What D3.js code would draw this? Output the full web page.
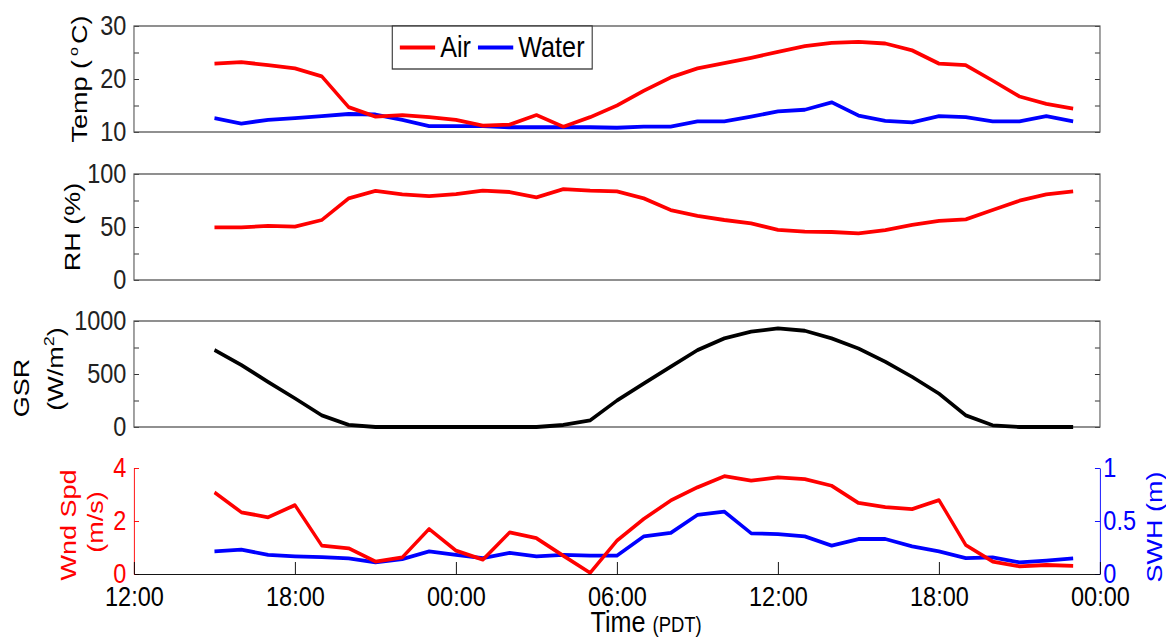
<!DOCTYPE html>
<html>
<head>
<meta charset="utf-8">
<script src="https://cdn.jsdelivr.net/npm/d3@7.9.0/dist/d3.min.js"></script>
<style>
  body { margin: 0; background: #fff; }
  svg { display: block; }
  text { font-family: "Liberation Sans", Arial, sans-serif; }
</style>
</head>
<body>
<div id="chart"></div>
<script>
// hours after 12:00 on the first day
const hours = [3, 4, 5, 6, 7, 8, 9, 10, 11, 12, 13, 14, 15, 16, 17, 18, 19,
  20, 21, 22, 23, 24, 25, 26, 27, 28, 29, 30, 31, 32, 33, 34, 35];

const airTemp = [22.9, 23.2, 22.6, 22.0, 20.5, 14.7, 12.9, 13.2, 12.8, 12.3, 11.2,
  11.4, 13.2, 11.0, 12.8, 15.0, 17.8, 20.3, 22.0, 23.0, 24.0, 25.1, 26.2, 26.8,
  27.0, 26.7, 25.4, 22.9, 22.6, 19.7, 16.7, 15.3, 14.4];
const waterTemp = [12.6, 11.6, 12.3, 12.6, 13.0, 13.4, 13.3, 12.3, 11.1, 11.1, 11.1,
  10.9, 10.9, 10.9, 10.9, 10.8, 11.0, 11.0, 12.0, 12.0, 12.9, 13.9, 14.2, 15.6,
  13.1, 12.1, 11.8, 13.0, 12.8, 12.0, 12.0, 13.0, 12.0];
const relHum = [49.7, 49.7, 51, 50.3, 56.6, 77, 84, 80.8, 79.2, 81.1, 84.3, 83, 78,
  85.8, 84.3, 83.6, 77, 66, 60.4, 56.6, 53.5, 47.2, 45.6, 45.3, 44, 47, 52, 55.7,
  57.2, 66, 74.8, 80.8, 83.6];
const solarRad = [726, 585, 425, 270, 110, 20, 0, 0, 0, 0, 0, 0, 0, 19, 62, 250, 410,
  568, 725, 836, 899, 930, 908, 836, 741, 615, 473, 315, 110, 16, 0, 0, 0];
const windSpd = [3.08, 2.33, 2.14, 2.6, 1.07, 0.97, 0.47, 0.63, 1.7, 0.88, 0.54,
  1.57, 1.35, 0.69, 0.04, 1.26, 2.08, 2.77, 3.27, 3.69, 3.52, 3.65, 3.58, 3.33,
  2.68, 2.52, 2.45, 2.79, 1.09, 0.47, 0.29, 0.34, 0.31];
const waveHt = [0.214, 0.23, 0.18, 0.167, 0.16, 0.148, 0.11, 0.14, 0.214, 0.18, 0.15,
  0.2, 0.167, 0.18, 0.173, 0.173, 0.355, 0.387, 0.557, 0.588, 0.384, 0.377, 0.355,
  0.267, 0.33, 0.33, 0.26, 0.214, 0.15, 0.157, 0.11, 0.126, 0.148];

const tempTicks = [10, 15, 20, 25, 30], tempLabels = [10, 20, 30];
const rhTicks = [0, 25, 50, 75, 100], rhLabels = [0, 50, 100];
const gsrTicks = [0, 250, 500, 750, 1000], gsrLabels = [0, 500, 1000];
const windTicks = [0, 2, 4];
const swhTicks = [0, 0.5, 1];

// the picture is squeezed sideways, so draw wide and let the viewBox squeeze it
const squeeze = 0.84;
const width = 1166 / squeeze;
const height = 638;
const left = 159.5, right = 1309.5;
const frameColor = '#555';
const tickFont = 28;
const labelFont = 27;

const svg = d3.select('#chart')
  .append('svg')
  .attr('width', 1166)
  .attr('height', height)
  .attr('viewBox', `0 0 ${width} ${height}`)
  .attr('preserveAspectRatio', 'none');

const t0 = new Date(2000, 0, 1, 12);
const timeAt = (h) => d3.timeHour.offset(t0, h);
const x = d3.scaleTime().domain([t0, timeAt(36)]).range([left, right]);

function styleAxis(g, color, size) {
  g.attr('font-size', size).attr('font-family', '"Liberation Sans", Arial, sans-serif');
  g.selectAll('line').attr('stroke', color);
  g.selectAll('path').attr('stroke', color);
  g.selectAll('text').attr('fill', color);
}

function drawLine(y, values, color) {
  const line = d3.line()
    .x((d, i) => x(timeAt(hours[i])))
    .y((d) => y(d));
  svg.append('path')
    .datum(values)
    .attr('fill', 'none')
    .attr('stroke', color)
    .attr('stroke-width', 3.8)
    .attr('stroke-linejoin', 'round')
    .attr('d', line);
}

// top three boxed panels
function boxedPanel(top, bottom, domain, ticks, labels) {
  const y = d3.scaleLinear().domain(domain).range([bottom, top]);

  svg.append('g')
    .attr('transform', `translate(${left},0)`)
    .call(d3.axisLeft(y).tickValues(ticks).tickSizeInner(-6).tickSizeOuter(0)
      .tickPadding(9).tickFormat((d) => labels.includes(d) ? d : ''))
    .call((g) => g.select('.domain').remove())
    .call((g) => styleAxis(g, '#222', tickFont));

  svg.append('g')
    .attr('transform', `translate(${right},0)`)
    .call(d3.axisRight(y).tickValues(ticks).tickSizeInner(-6).tickSizeOuter(0).tickFormat(''))
    .call((g) => g.select('.domain').remove())
    .call((g) => styleAxis(g, '#222', tickFont));

  svg.append('rect')
    .attr('x', left).attr('y', top)
    .attr('width', right - left).attr('height', bottom - top)
    .attr('fill', 'none').attr('stroke', frameColor).attr('stroke-width', 1.3);
  return y;
}

function yLabel(xPos, yPos, parts, color, anchor = 'middle') {
  const t = svg.append('text')
    .attr('transform', `translate(${xPos},${yPos}) rotate(-90)`)
    .attr('text-anchor', anchor)
    .attr('font-size', labelFont)
    .attr('fill', color);
  parts(t);
}

// Temperature
const yTemp = boxedPanel(26, 132, [10, 30], tempTicks, tempLabels);
drawLine(yTemp, waterTemp, '#0000ff');
drawLine(yTemp, airTemp, '#ff0000');
yLabel(103.6, 79, (t) => {
  t.append('tspan').text('Temp (');
  t.append('tspan').attr('font-size', 16).attr('dx', 4).attr('dy', -11).text('o');
  t.append('tspan').attr('dx', 3).attr('dy', 11).text('C)');
}, '#000');

// legend
const legend = svg.append('g');
legend.append('rect')
  .attr('x', 467).attr('y', 26).attr('width', 238).attr('height', 43)
  .attr('fill', '#fff').attr('stroke', '#333').attr('stroke-width', 1.3);
const legendItems = [
  { name: 'Air', color: '#ff0000', x: 476 },
  { name: 'Water', color: '#0000ff', x: 569 },
];
legendItems.forEach((d) => {
  legend.append('line')
    .attr('x1', d.x).attr('x2', d.x + 42).attr('y1', 47.5).attr('y2', 47.5)
    .attr('stroke', d.color).attr('stroke-width', 3.8);
  legend.append('text')
    .attr('x', d.x + 48).attr('y', 57.5)
    .attr('font-size', 30).text(d.name);
});

// Relative humidity
const yRh = boxedPanel(174, 280, [0, 100], rhTicks, rhLabels);
drawLine(yRh, relHum, '#ff0000');
yLabel(95, 227, (t) => t.text('RH (%)'), '#000');

// Solar radiation
const yGsr = boxedPanel(321, 427, [0, 1000], gsrTicks, gsrLabels);
drawLine(yGsr, solarRad, '#000');
yLabel(34, 388, (t) => t.text('GSR'), '#000');
yLabel(75, 369, (t) => {
  t.append('tspan').text('(W/m');
  t.append('tspan').attr('font-size', 18).attr('dy', -11).text('2');
  t.append('tspan').attr('dy', 11).text(')');
}, '#000');

// Wind speed and wave height
const yWind = d3.scaleLinear().domain([0, 4]).range([574, 468]);
const ySwh = d3.scaleLinear().domain([0, 1]).range([574, 468]);

drawLine(ySwh, waveHt, '#0000ff');
drawLine(yWind, windSpd, '#ff0000');

svg.append('g')
  .attr('transform', `translate(${left},0)`)
  .call(d3.axisLeft(yWind).tickValues(windTicks).tickSizeInner(-6).tickSizeOuter(0)
    .tickPadding(9).tickFormat(d3.format('~g')))
  .call((g) => styleAxis(g, '#ff0000', tickFont));

svg.append('g')
  .attr('transform', `translate(${right},0)`)
  .call(d3.axisRight(ySwh).tickValues(swhTicks).tickSizeInner(-6).tickSizeOuter(0)
    .tickPadding(4).tickFormat(d3.format('~g')))
  .call((g) => styleAxis(g, '#0000ff', tickFont));

svg.append('g')
  .attr('transform', 'translate(0,574)')
  .call(d3.axisBottom(x).ticks(d3.timeHour.every(6)).tickFormat(d3.timeFormat('%H:%M'))
    .tickSizeInner(-12).tickSizeOuter(0).tickPadding(12))
  .call((g) => styleAxis(g, '#000', tickFont));

yLabel(90.5, 525, (t) => t.text('Wnd Spd'), '#ff0000');
yLabel(122.6, 522, (t) => t.text('(m/s)'), '#ff0000');
yLabel(1383, 527, (t) => t.text('SWH (m)'), '#0000ff');

const xLabel = svg.append('text')
  .attr('x', 703).attr('y', 632)
  .attr('font-size', 30);
xLabel.append('tspan').text('Time ');
xLabel.append('tspan').attr('font-size', 22).text('(PDT)');
</script>
</body>
</html>
